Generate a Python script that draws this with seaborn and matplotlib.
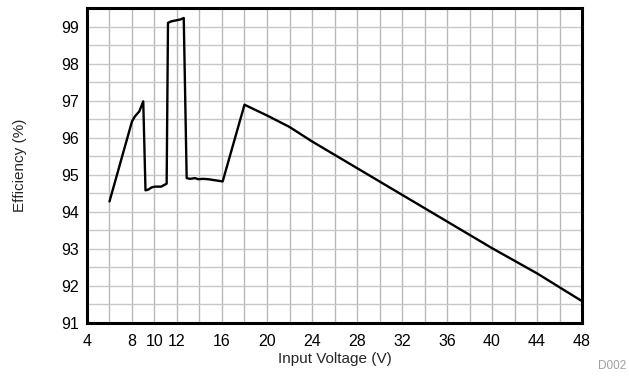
import matplotlib
matplotlib.use("Agg")
import matplotlib.pyplot as plt
import seaborn as sns
import pandas as pd
from matplotlib.ticker import MultipleLocator

# Efficiency vs input voltage
input_voltage = [6, 8, 8.27, 8.65, 9.0, 9.2, 9.45, 9.75, 10.05, 10.6, 11.08,
                 11.2, 11.5, 11.82, 12.3, 12.6, 12.86, 13.16, 13.6, 13.9, 14.3,
                 14.78, 15.2, 16.06, 18, 20, 22, 24, 28, 32, 36, 40, 44, 48]
efficiency = [94.28, 96.44, 96.58, 96.71, 96.98, 94.58, 94.60, 94.66, 94.68,
              94.68, 94.76, 99.10, 99.14, 99.16, 99.19, 99.23, 94.91, 94.89,
              94.91, 94.88, 94.89, 94.88, 94.86, 94.82, 96.89, 96.60, 96.29,
              95.90, 95.18, 94.46, 93.74, 93.02, 92.34, 91.59]

x_ticks = [4, 8, 10, 12, 16, 20, 24, 28, 32, 36, 40, 44, 48]
y_ticks = [91, 92, 93, 94, 95, 96, 97, 98, 99]

df = pd.DataFrame({"Input Voltage (V)": input_voltage, "Efficiency (%)": efficiency})

sns.set_theme(style="white")
plt.rcParams["font.family"] = ["Liberation Sans", "DejaVu Sans"]

fig = plt.figure(figsize=(6.29, 3.77), dpi=100)
ax = fig.add_axes([0.1383, 0.1432, 0.7870, 0.8356])

sns.lineplot(data=df, x="Input Voltage (V)", y="Efficiency (%)", sort=False,
             estimator=None, color="black", linewidth=1.7, ax=ax, zorder=3)

ax.set_xlim(4, 48)
ax.set_ylim(91, 99.5)
ax.set_xticks(x_ticks)
ax.set_xticklabels([str(t) for t in x_ticks])
ax.set_yticks(y_ticks)
ax.xaxis.set_minor_locator(MultipleLocator(2))
ax.yaxis.set_minor_locator(MultipleLocator(0.5))

ax.grid(which="both", axis="x", color="#b8b8b8", linewidth=1.0)
ax.grid(which="both", axis="y", color="#c8c8c8", linewidth=1.0)
ax.set_axisbelow(True)

ax.tick_params(axis="both", which="both", length=0, labelsize=11.5,
               colors="black")
ax.tick_params(axis="x", pad=8)
ax.tick_params(axis="y", pad=6)
ax.set_xlabel("Input Voltage (V)", fontsize=11, labelpad=2)
ax.set_ylabel("Efficiency (%)", fontsize=11, labelpad=24)

for spine in ax.spines.values():
    spine.set_visible(True)
    spine.set_color("black")
    spine.set_linewidth(2.2)

fig.text(0.995, 0.03, "D002", fontsize=8.5, color="#a0a0a0", ha="right", va="center")

fig.savefig("out.png", dpi=100)
